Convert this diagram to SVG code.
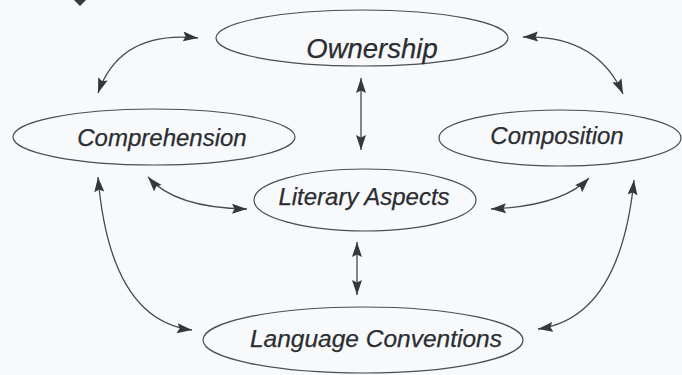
<svg xmlns="http://www.w3.org/2000/svg" width="682" height="375" viewBox="0 0 682 375">
  <defs>
    <marker id="head" viewBox="0 0 15 11" refX="15" refY="5.5" markerWidth="15" markerHeight="11" markerUnits="userSpaceOnUse" orient="auto-start-reverse">
      <path d="M0,0.5 L15,5.5 L0,10.5 L2.5,5.5 Z" fill="#34373c"/>
    </marker>
  </defs>
  <style>
    .node ellipse { fill: none; stroke: #4a4d52; stroke-width: 1.2; }
    .node text { font-family: "Liberation Sans", Arial, sans-serif; font-style: italic; fill: #2b2d32; text-anchor: middle; stroke: #2b2d32; stroke-width: 0.25; }
    .edge { fill: none; stroke: #45484d; stroke-width: 1.3; marker-start: url(#head); marker-end: url(#head); }
  </style>
  <rect width="682" height="375" fill="#f8f9fb"/>

  <!-- arrowhead cut off at the top edge -->
  <polygon points="74,0 86,0 80,6" fill="#34373c"/>

  <g id="connectors">
    <path class="edge" d="M98,93 Q120,30 198,38"/>
    <path class="edge" d="M523,37 Q597,35 623,94"/>
    <path class="edge" d="M361,78 L361,150"/>
    <path class="edge" d="M357,242 L357,295"/>
    <path class="edge" d="M148,177 Q175,208 247,209"/>
    <path class="edge" d="M491,209 Q562,206 589,178"/>
    <path class="edge" d="M98,177 Q110,320 192,330"/>
    <path class="edge" d="M634,180 Q620,318 538,329"/>
  </g>

  <g id="ownership" class="node">
    <ellipse cx="362" cy="38" rx="146" ry="28"/>
    <text x="372" y="58" font-size="27.5">Ownership</text>
  </g>
  <g id="comprehension" class="node">
    <ellipse cx="154" cy="137" rx="141" ry="28"/>
    <text x="162" y="146" font-size="24">Comprehension</text>
  </g>
  <g id="composition" class="node">
    <ellipse cx="560" cy="138" rx="121" ry="28"/>
    <text x="557" y="144" font-size="24">Composition</text>
  </g>
  <g id="literary-aspects" class="node">
    <ellipse cx="365" cy="200" rx="111" ry="31"/>
    <text x="364" y="205" font-size="24">Literary Aspects</text>
  </g>
  <g id="language-conventions" class="node">
    <ellipse cx="363" cy="340" rx="160" ry="33"/>
    <text x="376" y="347" font-size="24.5">Language Conventions</text>
  </g>
</svg>
